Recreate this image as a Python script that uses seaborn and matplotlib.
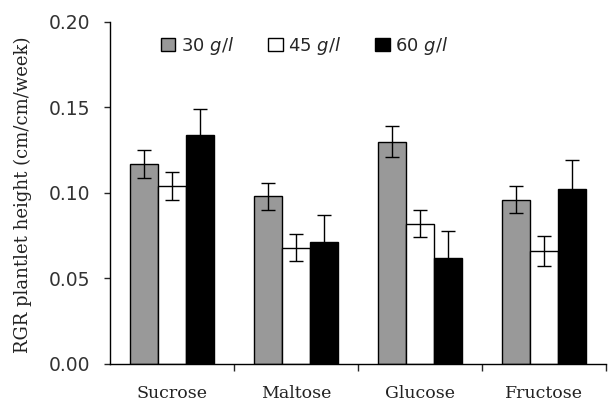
import numpy as np
import pandas as pd
import matplotlib
matplotlib.use("Agg")
import matplotlib.pyplot as plt
import seaborn as sns

# Data
sugars = ["Sucrose", "Maltose", "Glucose", "Fructose"]
levels = ["30 g/l", "45 g/l", "60 g/l"]
rgr_30 = [0.117, 0.098, 0.130, 0.096]
rgr_45 = [0.104, 0.068, 0.082, 0.066]
rgr_60 = [0.134, 0.071, 0.062, 0.102]
err_30 = [0.008, 0.008, 0.009, 0.008]
err_45 = [0.008, 0.008, 0.008, 0.009]
err_60 = [0.015, 0.016, 0.016, 0.017]

df = pd.DataFrame({
    "Sugar": sugars * 3,
    "Level": [levels[0]] * 4 + [levels[1]] * 4 + [levels[2]] * 4,
    "RGR": rgr_30 + rgr_45 + rgr_60,
    "err": err_30 + err_45 + err_60,
})

sns.set_style("ticks")
plt.rcParams["mathtext.fontset"] = "dejavusans"

fig = plt.figure(figsize=(6.08, 4.07), dpi=100)
ax = fig.add_axes([0.181, 0.106, 0.815, 0.84])

palette = {levels[0]: "#999999", levels[1]: "white", levels[2]: "black"}
sns.barplot(data=df, x="Sugar", y="RGR", hue="Level", order=sugars,
            hue_order=levels, palette=palette, edgecolor="black",
            linewidth=1.0, width=0.68, errorbar=None, ax=ax)

# error bars on top of each bar
for cont, errs in zip(ax.containers, [err_30, err_45, err_60]):
    for bar, e in zip(cont, errs):
        xc = bar.get_x() + bar.get_width() / 2
        ax.errorbar(xc, bar.get_height(), yerr=e, fmt="none", ecolor="black",
                    elinewidth=1.0, capsize=5, capthick=1.0, zorder=5)

ax.set_ylim(0, 0.20)
ax.set_xlim(-0.5, 3.5)
ax.set_yticks([0.0, 0.05, 0.10, 0.15, 0.20])
ax.set_yticklabels(["0.00", "0.05", "0.10", "0.15", "0.20"], fontsize=13.5,
                   color="#333333")
ax.set_xticks(range(4))
ax.set_xticklabels(sugars, family="DejaVu Serif", fontsize=12.5,
                   color="#222222")
ax.tick_params(axis="x", length=0, pad=15)
ax.set_xticks([0.5, 1.5, 2.5, 3.5], minor=True)
ax.tick_params(axis="x", which="minor", length=5, width=1, direction="out")
ax.tick_params(axis="y", length=4.5, width=1, direction="out", pad=9.5)
ax.set_xlabel("")
ax.set_ylabel("RGR plantlet height (cm/cm/week)", family="DejaVu Serif",
              fontsize=13, color="#222222")
ax.yaxis.set_label_coords(-0.158, 0.495)
sns.despine(ax=ax)
for s in ["left", "bottom"]:
    ax.spines[s].set_linewidth(1.0)
    ax.spines[s].set_color("black")

handles, labels = ax.get_legend_handles_labels()
labels = [l.replace(" g/l", r" $\it{g/l}$") for l in labels]
ax.legend(handles, labels, ncol=3, frameon=False, loc="upper left",
          bbox_to_anchor=(0.07, 1.01), fontsize=13, handlelength=0.8,
          handleheight=0.8, handletextpad=0.3, columnspacing=1.9)

fig.savefig("out.png", dpi=100)
